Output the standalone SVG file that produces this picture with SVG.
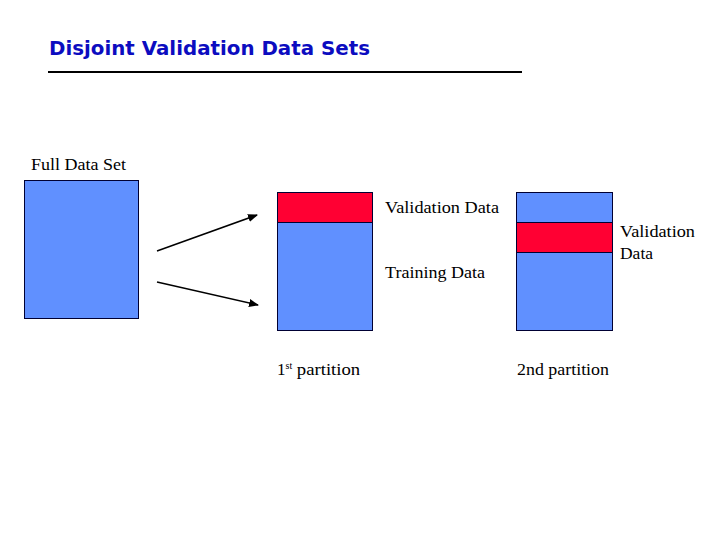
<svg xmlns="http://www.w3.org/2000/svg" width="720" height="540" viewBox="0 0 720 540">
<style>
.t{font-family:"Liberation Serif","Times New Roman",serif;font-size:17px;fill:#000}
.blue{fill:#6090FF;stroke:#000033;stroke-width:1}
.red{fill:#FF0033;stroke:#000033;stroke-width:1}
.arr{stroke:#000;stroke-width:1.5;fill:none;marker-end:url(#ah)}
</style>
<defs>
<marker id="ah" markerWidth="10" markerHeight="8" refX="9" refY="4" orient="auto" markerUnits="userSpaceOnUse">
<path d="M0,0 L10,4 L0,8 Z" fill="#000"/>
</marker>
</defs>
<rect width="720" height="540" fill="#fff"/>
<g id="title">
<text x="49" y="55" font-family="'DejaVu Sans',Verdana,sans-serif" font-weight="bold" font-size="19" fill="#0C0CC0" textLength="321" lengthAdjust="spacingAndGlyphs">Disjoint Validation Data Sets</text>
<line x1="48" y1="72" x2="522" y2="72" stroke="#000" stroke-width="2"/>
</g>
<g id="full">
<text class="t" x="31" y="170" textLength="95" lengthAdjust="spacingAndGlyphs">Full Data Set</text>
<rect class="blue" x="24.5" y="180.5" width="114" height="138"/>
</g>
<g id="part1">
<rect class="blue" x="277.5" y="192.5" width="95" height="138"/>
<rect class="red" x="277.5" y="192.5" width="95" height="30"/>
<text class="t" x="385" y="213" textLength="114" lengthAdjust="spacingAndGlyphs">Validation Data</text>
<text class="t" x="385" y="278" textLength="100" lengthAdjust="spacingAndGlyphs">Training Data</text>
<text class="t" x="277" y="375">1<tspan font-size="10" dy="-6">st</tspan><tspan dy="6" textLength="68" lengthAdjust="spacingAndGlyphs"> partition</tspan></text>
</g>
<g id="part2">
<rect class="blue" x="516.5" y="192.5" width="96" height="138"/>
<rect class="red" x="516.5" y="222.5" width="96" height="30"/>
<text class="t" x="620" y="237" textLength="75" lengthAdjust="spacingAndGlyphs">Validation</text>
<text class="t" x="620" y="259" textLength="33" lengthAdjust="spacingAndGlyphs">Data</text>
<text class="t" x="517" y="375" textLength="92" lengthAdjust="spacingAndGlyphs">2nd partition</text>
</g>
<g id="connectors">
<line class="arr" x1="157" y1="251" x2="257" y2="215"/>
<line class="arr" x1="157" y1="282" x2="258" y2="305"/>
</g>
</svg>
